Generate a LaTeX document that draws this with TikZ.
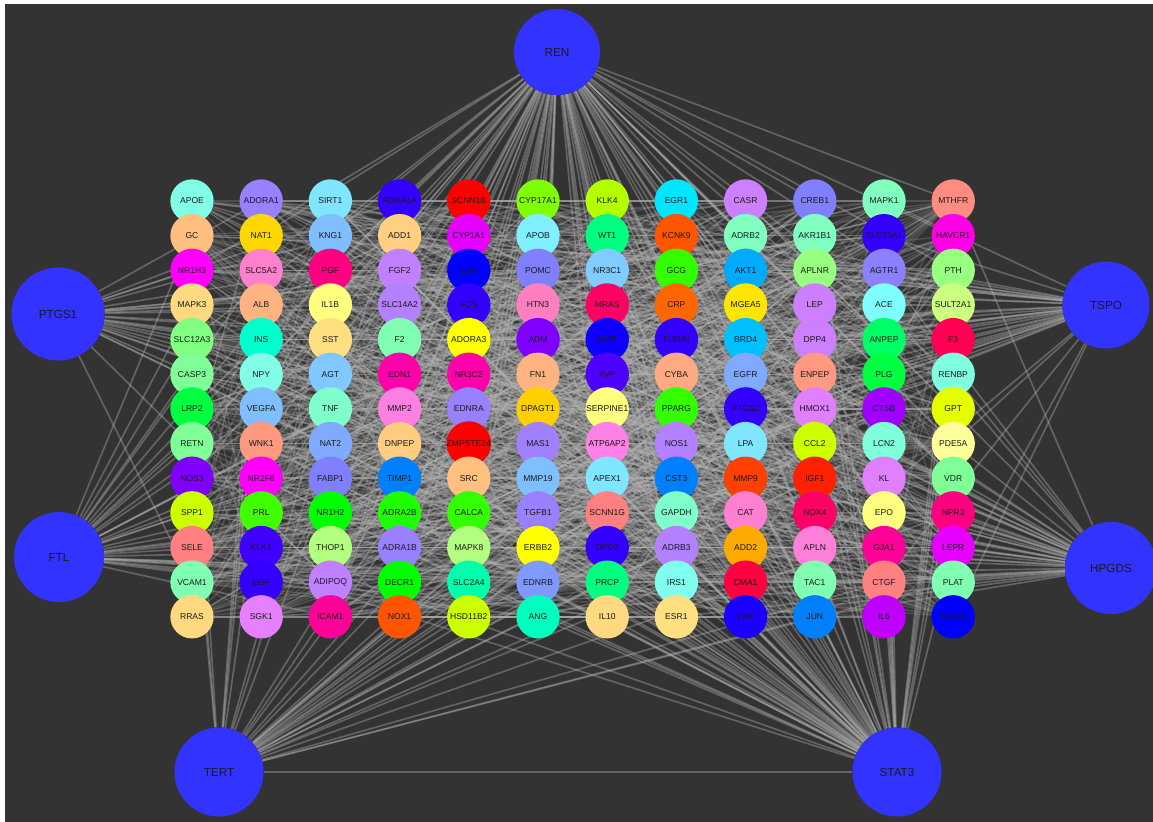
\documentclass[tikz,border=0pt]{standalone}
\usepackage{fontspec}
\setmainfont{Liberation Sans}
\definecolor{cbg}{HTML}{333333}
\definecolor{chub}{HTML}{3333FF}
\definecolor{cedge}{HTML}{B4B4B4}
\definecolor{ctext}{HTML}{1A1A1A}
\pgfdeclarelayer{bg}
\pgfdeclarelayer{edges}
\pgfsetlayers{bg,edges,main}
\tikzset{
  gene/.style={circle, fill=#1, minimum size=1.3cm, inner sep=0pt, text=ctext, font=\fontsize{7.3}{8}\selectfont},
  hub/.style={circle, fill=chub, inner sep=0pt, text=ctext, font=\fontsize{10}{12}\selectfont},
  link/.style={draw=cedge, line width=1.4pt, opacity=0.38},
  mesh/.style={draw=cedge, line width=1.2pt, opacity=0.22},
}

\begin{document}
\begin{tikzpicture}[x=0.03cm, y=-0.03cm]
  \useasboundingbox (0,0) rectangle (1153,822);
  \begin{pgfonlayer}{bg}
    \fill[white] (0,0) rectangle (1153,822);
    \fill[cbg] (5,4) rectangle (1153,822);
  \end{pgfonlayer}
  % grid of genes, column by column
  \foreach \col [count=\c] in {
      {APOE/80FFE6, GC/FFBF80, NR1H3/FF00FF, MAPK3/FFD980, SLC12A3/80FF80, CASP3/80FF99, LRP2/00FF40, RETN/80FF99, NOS3/8000FF, SPP1/CCFF00, SELE/FF8080, VCAM1/80FFB3, RRAS/FFD980},
      {ADORA1/9980FF, NAT1/FFD700, SLC5A2/FF80CC, ALB/FFB380, INS/00FFCC, NPY/80FFE6, VEGFA/80BFFF, WNK1/FF9980, NR2F6/FF00FF, PRL/40FF00, KLK1/4000FF, EGF/3300FF, SGK1/E680FF},
      {SIRT1/80E6FF, KNG1/80BFFF, PGF/FF0080, IL1B/FFFF80, SST/FFE080, AGT/80C8FF, TNF/80FFCC, NAT2/80AAFF, FABP1/8080FF, NR1H2/00FF00, THOP1/B3FF80, ADIPOQ/C080FF, ICAM1/FF0099},
      {ADRA1A/3300FF, ADD1/FFD080, FGF2/C080FF, SLC14A2/B380FF, F2/80FFB3, EDN1/FF00AA, MMP2/FF80E0, DNPEP/FFCC80, TIMP1/0080FF, ADRA2B/20FF00, ADRA1B/9980FF, DECR1/00FF00, NOX1/FF5500},
      {SCNN1B/FF0000, CYP1A1/E600FF, EDA/0000FF, FOS/3300FF, ADORA3/FFFF00, NR3C2/FF00AA, EDNRA/9980FF, ZMPSTE24/FF0000, SRC/FFC080, CALCA/33FF00, MAPK8/B3FF80, SLC2A4/00FFAA, HSD11B2/CCFF00},
      {CYP17A1/80FF00, APOB/80F0FF, POMC/8080FF, HTN3/FF80C0, ADM/7F00FF, FN1/FFB380, DPAGT1/FFD000, MAS1/A080FF, MMP19/80BFFF, TGFB1/9980FF, ERBB2/FFFF00, EDNRB/8099FF, ANG/00FFBF},
      {KLK4/B3FF00, WT1/00FF80, NR3C1/80CCFF, MRAS/FF0066, MME/0D00FF, AVP/4D00FF, SERPINE1/FFFF80, ATP6AP2/FF80E6, APEX1/80E6FF, SCNN1G/FF8080, DRD2/3300FF, PRCP/00FF80, IL10/FFD980},
      {EGR1/00E6FF, KCNK9/FF5500, GCG/33FF00, CRP/FF6600, FURIN/3300FF, CYBA/FFAA80, PPARG/33FF00, NOS1/B380FF, CST3/0080FF, GAPDH/80FFCC, ADRB3/B380FF, IRS1/80FFF0, ESR1/FFE080},
      {CASR/CC80FF, ADRB2/80FFBF, AKT1/00AAFF, MGEA5/FFE600, BRD4/00C0FF, EGFR/80AAFF, PTGS2/3300FF, LPA/80E6FF, MMP9/FF4000, CAT/FF80D0, ADD2/FFAA00, CMA1/FF0040, VWF/1A00FF},
      {CREB1/8080FF, AKR1B1/80FFC0, APLNR/99FF80, LEP/CC80FF, DPP4/CC80FF, ENPEP/FF9980, HMOX1/E080FF, CCL2/CCFF00, IGF1/FF2200, NOX4/FF0066, APLN/FF80D9, TAC1/80FFB3, JUN/0080FF},
      {MAPK1/80FFBF, SLC33A1/3300FF, AGTR1/8C80FF, ACE/80FFFF, ANPEP/00FF66, PLG/00FF40, CTSB/A000FF, LCN2/80FFDD, KL/E080FF, EPO/FFFF80, GJA1/FF0099, CTGF/FF8080, IL6/BF00FF},
      {MTHFR/FF8C80, HAVCR1/FF00E6, PTH/99FF80, SULT2A1/CCFF80, F3/FF0055, RENBP/80FFE0, GPT/E6FF00, PDE5A/FFFF99, VDR/80FF99, NPR3/FF0080, LEPR/E600FF, PLAT/80FFB3, AVPR2/0000FF}} {
    \foreach \g/\hx [count=\r] in \col {
      \definecolor{cellc}{HTML}{\hx}
      \node[gene=cellc] (g\c-\r) at ({192+(\c-1)*69.2}, {201+(\r-1)*34.65}) {\g};
    }
  }
  % hubs
  \foreach \h/\x/\y/\d in {REN/557/52/86, PTGS1/58/314/93, TSPO/1106/305/87, FTL/59/557/90,
      HPGDS/1111/568/92, TERT/219/772/89, STAT3/897/772/89}
    \node[hub, minimum size=\d*0.03cm] (\h) at (\x,\y) {\h};
  \begin{pgfonlayer}{edges}
    \pgfmathsetseed{11}
    % hub links, share of genes per hub
    \foreach \h/\p in {REN/0.5,PTGS1/0.2,TSPO/0.2,FTL/0.2,HPGDS/0.25,TERT/0.25,STAT3/0.45}
      \foreach \c in {1,...,12}
        \foreach \r in {1,...,13} {
          \pgfmathtruncatemacro\pick{rnd<\p}
          \ifnum\pick=1 \draw[link] (\h) -- (g\c-\r); \fi
        }
    \draw[link] (TERT) -- (STAT3);
    % links inside the grid
    \foreach \c in {1,...,12}
      \foreach \r in {1,...,13}
        \foreach \k in {1,...,10} {
          \pgfmathrandominteger{\cc}{1}{12}
          \pgfmathrandominteger{\rr}{1}{13}
          \ifnum\cc=\c \else \draw[mesh] (g\c-\r) -- (g\cc-\rr); \fi
        }
  \end{pgfonlayer}
\end{tikzpicture}
\end{document}
